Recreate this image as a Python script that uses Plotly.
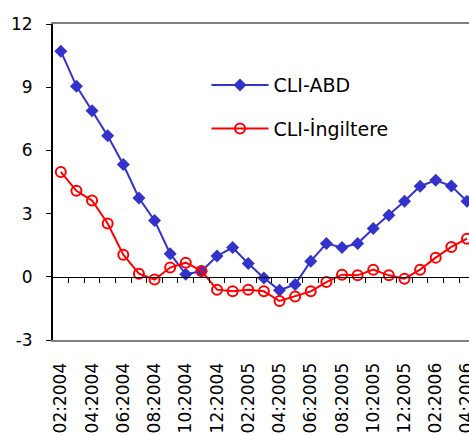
import plotly.graph_objects as go

months = ["02:2004","03:2004","04:2004","05:2004","06:2004","07:2004","08:2004","09:2004",
          "10:2004","11:2004","12:2004","01:2005","02:2005","03:2005","04:2005","05:2005",
          "06:2005","07:2005","08:2005","09:2005","10:2005","11:2005","12:2005","01:2006",
          "02:2006","03:2006","04:2006"]
cli_abd = [10.71, 9.05, 7.88, 6.69, 5.33, 3.74, 2.67, 1.10, 0.12, 0.26, 0.99, 1.39, 0.63,
           -0.06, -0.64, -0.36, 0.74, 1.58, 1.39, 1.58, 2.29, 2.92, 3.59, 4.30, 4.58, 4.31, 3.59]
cli_ing = [4.98, 4.08, 3.62, 2.53, 1.05, 0.15, -0.13, 0.44, 0.67, 0.28, -0.61, -0.69, -0.61,
           -0.69, -1.15, -0.93, -0.69, -0.25, 0.10, 0.07, 0.34, 0.07, -0.09, 0.34, 0.91, 1.42, 1.81]
y_ticks = [-3, 0, 3, 6, 9, 12]
y_tick_labels = ["-3", "0", "3", "6", "9", "12"]

idx = list(range(len(months)))
label_idx = idx[::2]
label_txt = [months[i] for i in label_idx]

FONT = "DejaVu Sans"
BLUE = "#3333CC"
RED = "#FF0000"

fig = go.Figure()
fig.add_trace(go.Scatter(
    x=idx, y=cli_abd, mode="lines+markers", name="CLI-ABD", legendgroup="a",
    line=dict(color=BLUE, width=2),
    marker=dict(symbol="diamond", size=10, color=BLUE, line=dict(width=0)),
))
fig.add_trace(go.Scatter(
    x=idx, y=cli_ing, mode="lines+markers", name="CLI-İngiltere", legendgroup="b",
    line=dict(color=RED, width=2),
    marker=dict(symbol="circle-open", size=10, color=RED, line=dict(width=2, color=RED)),
))
# invisible trace on the zero-line axis
fig.add_trace(go.Scatter(x=[idx[0]], y=[0], xaxis="x2", mode="markers",
                         marker=dict(opacity=0), showlegend=False, hoverinfo="skip"))

fig.update_layout(
    width=469, height=435,
    margin=dict(l=53, r=0, t=24, b=95, autoexpand=False),
    paper_bgcolor="white", plot_bgcolor="white",
    font=dict(family=FONT, size=17, color="black"),
    showlegend=True,
    legend=dict(x=0.369, y=0.867, xanchor="left", yanchor="top",
                bgcolor="rgba(0,0,0,0)", font=dict(size=19, family=FONT),
                tracegroupgap=16, itemwidth=57),
    xaxis=dict(
        range=[-0.5, 26.13], tickmode="array", tickvals=label_idx, ticktext=label_txt,
        tickangle=-90, ticks="", showgrid=False, zeroline=False, automargin=False,
        showline=True, linecolor="#808080", linewidth=2, mirror=True,
        tickfont=dict(size=17, family=FONT), ticklabelstandoff=14,
        ticklabeloverflow="allow",
    ),
    xaxis2=dict(
        range=[-0.5, 26.13], overlaying="x", anchor="free", position=0.2,
        showline=True, linecolor="black", linewidth=1, automargin=False,
        tickmode="array", tickvals=[i + 0.5 for i in idx], ticks="outside",
        ticklen=5, tickcolor="black", tickwidth=1, showticklabels=False,
        showgrid=False, zeroline=False,
    ),
    yaxis=dict(
        range=[-3, 12], tickmode="array", tickvals=y_ticks, ticktext=y_tick_labels,
        automargin=False,
        ticks="outside", ticklen=5, tickcolor="black", tickwidth=1,
        showline=True, linecolor="black", linewidth=2,
        showgrid=False, zeroline=False, ticklabelstandoff=10,
        tickfont=dict(size=17, family=FONT),
    ),
)

fig.write_html(
    "out.html",
    config={"displayModeBar": False},
    post_script="document.body.style.margin='0';document.body.style.overflow='hidden';",
)
